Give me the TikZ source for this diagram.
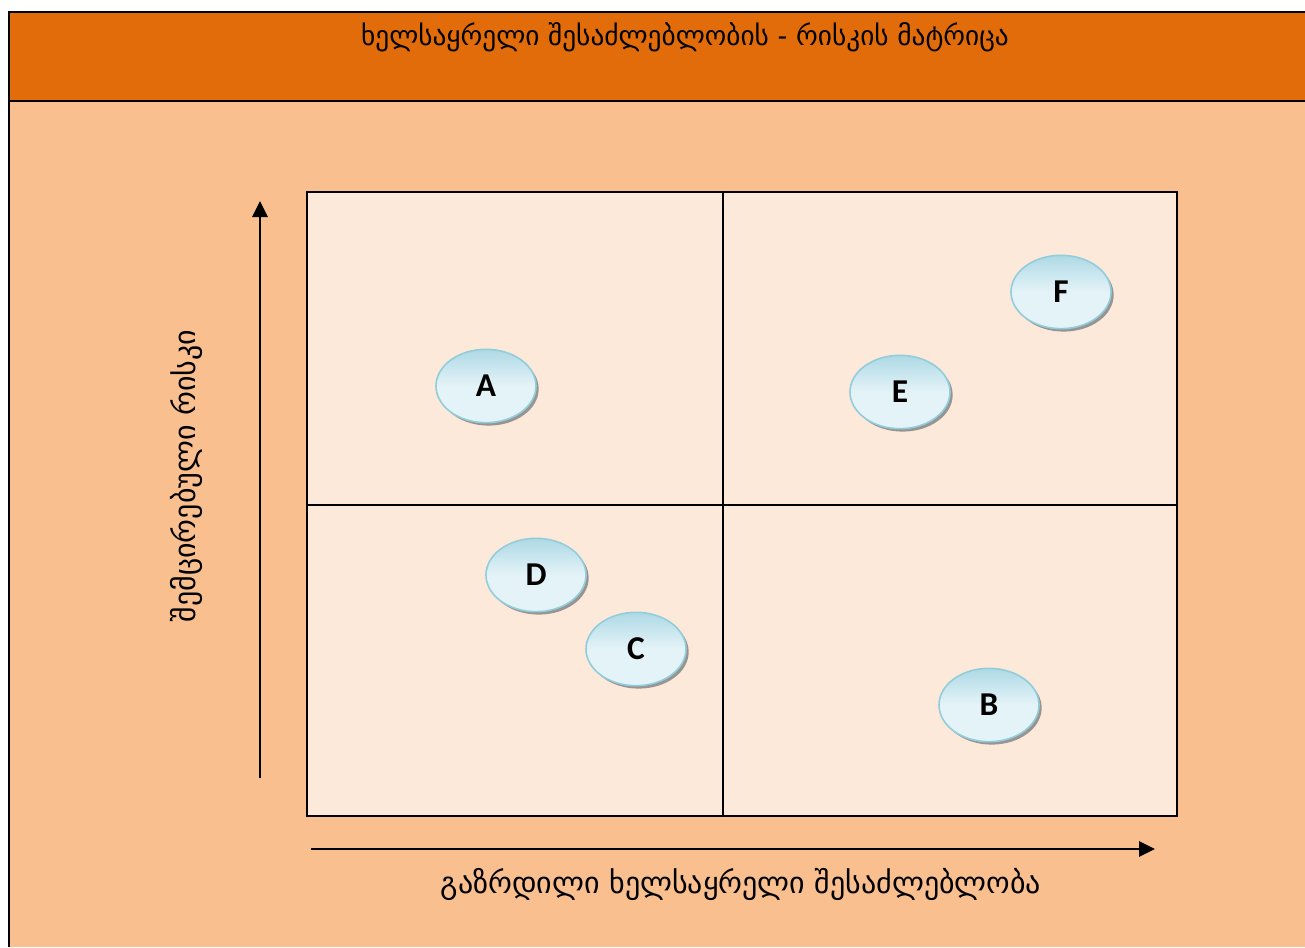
\documentclass[tikz,border=0pt]{standalone}
\usepackage{fontspec}
\setmainfont{DejaVu Sans}
\newfontfamily\labelfont{Carlito}
\usetikzlibrary{shapes.geometric,shadows,arrows.meta}
\definecolor{headorange}{HTML}{E36C0A}
\definecolor{pagepeach}{HTML}{FABF8F}
\definecolor{cellfill}{HTML}{FDE9D9}
\definecolor{bubbleedge}{HTML}{92CDDC}
\definecolor{bubblelight}{HTML}{E4F3F8}
\definecolor{bubbledark}{HTML}{AED9E5}
\tikzset{
  frame/.style={line width=1.6pt},
  gridline/.style={line width=1.5pt},
  axisarrow/.style={line width=1.6pt,-{Triangle[width=11.5pt,length=12pt]}},
  bubble/.style={ellipse, draw=bubbleedge, line width=1.2pt,
    minimum width=75pt, minimum height=55pt, inner sep=0pt,
    shading angle=30, top color=bubbledark, bottom color=bubblelight, middle color=bubblelight,
    drop shadow={shadow xshift=2pt, shadow yshift=-2.2pt, fill=black!45, opacity=0.9},
    font=\labelfont\bfseries\fontsize{25}{25}\selectfont},
  titletext/.style={font=\fontsize{20.5}{22}\selectfont},
  axistext/.style={font=\fontsize{22.5}{24}\selectfont}
}
\begin{document}
\begin{tikzpicture}[x=0.75pt,y=-0.75pt]
  \useasboundingbox (0,0) rectangle (1305,947);
  \fill[white] (0,0) rectangle (1305,947);
  % page body and header band
  \fill[pagepeach] (9,101) rectangle (1305,947);
  \fill[headorange] (9,12) rectangle (1305,101);
  \draw[frame] (9,947) -- (9,12) -- (1305,12);
  \draw[frame] (9,101) -- (1305,101);
  \node[titletext] (title) at (685,37) {ხელსაყრელი შესაძლებლობის - რისკის მატრიცა};
  % the 2x2 matrix
  \fill[cellfill] (307,192) rectangle (1177,816);
  \draw[gridline] (307,192) rectangle (1177,816);
  \draw[gridline] (723,192) -- (723,816);
  \draw[gridline] (307,505) -- (1177,505);
  % axes
  \coordinate (ybase) at (260,778);
  \coordinate (ytip) at (260,201);
  \coordinate (xbase) at (311,849);
  \coordinate (xtip) at (1155,849);
  \draw[axisarrow] (ybase) -- (ytip);
  \draw[axisarrow] (xbase) -- (xtip);
  \node[axistext, rotate=90] (ylabel) at (186,476) {შემცირებული რისკი};
  \node[axistext] (xlabel) at (741,884) {გაზრდილი ხელსაყრელი შესაძლებლობა};
  % options
  \node[bubble] (A) at (486,386) {A};
  \node[bubble] (F) at (1061,292) {F};
  \node[bubble] (E) at (900,392) {E};
  \node[bubble] (D) at (536,575) {D};
  \node[bubble] (C) at (636,649) {C};
  \node[bubble] (B) at (989,705) {B};
\end{tikzpicture}
\end{document}
